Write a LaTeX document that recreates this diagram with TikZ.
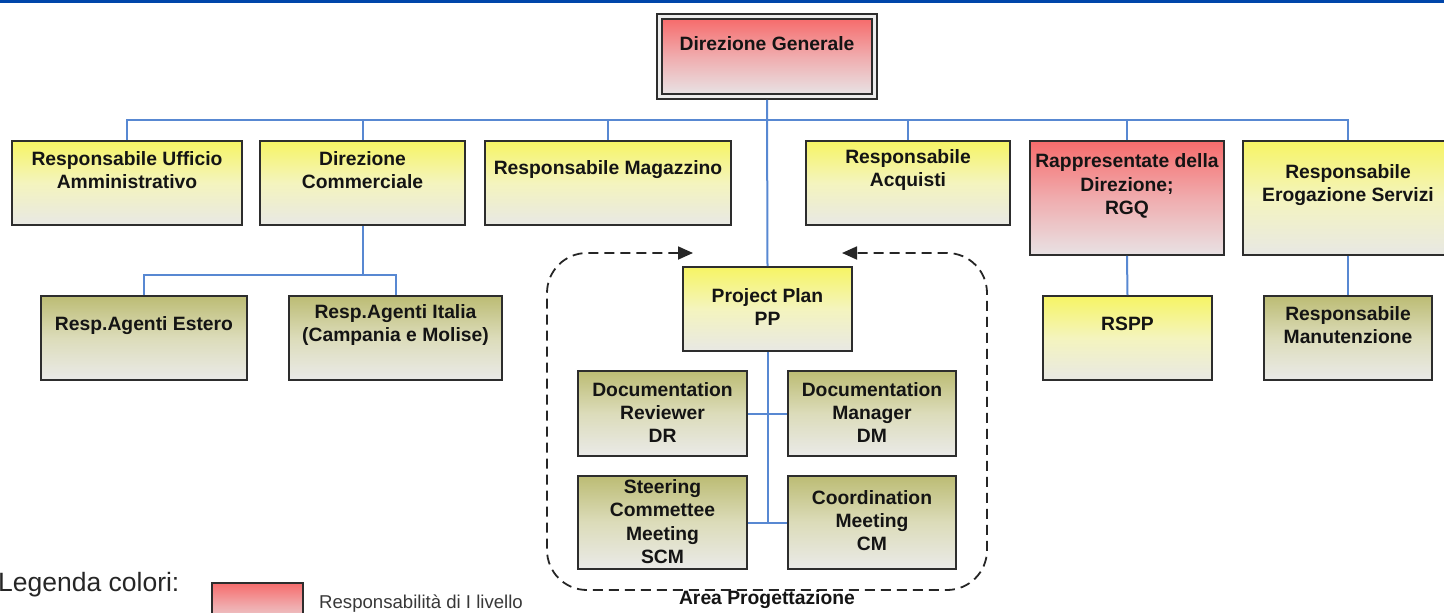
\documentclass[tikz,border=0pt]{standalone}
\usepackage{fontspec}
\setmainfont{Liberation Sans}
\usetikzlibrary{fit,arrows.meta}
\definecolor{ylwtop}{RGB}{246,244,100}
\definecolor{ylwmid}{RGB}{244,244,190}
\definecolor{ylwbot}{RGB}{232,232,228}
\definecolor{redtop}{RGB}{246,108,108}
\definecolor{redmid}{RGB}{240,172,174}
\definecolor{redbot}{RGB}{232,226,228}
\definecolor{olvtop}{RGB}{188,188,116}
\definecolor{olvmid}{RGB}{220,220,186}
\definecolor{olvbot}{RGB}{234,234,232}
\definecolor{conncol}{RGB}{88,136,210}
\definecolor{barcol}{RGB}{0,70,170}
\definecolor{edgecol}{RGB}{45,45,45}
\tikzset{
  box/.style={rectangle, draw=edgecol, line width=1.7pt, inner sep=0pt},
  ybox/.style={box, top color=ylwtop, bottom color=ylwbot, middle color=ylwmid},
  rbox/.style={box, top color=redtop, bottom color=redbot, middle color=redmid},
  gbox/.style={box, top color=olvtop, bottom color=olvbot, middle color=olvmid},
  txt/.style={font=\fontsize{19.3}{23.3}\selectfont\bfseries, align=center, inner sep=0pt, text=black!92},
  conn/.style={draw=conncol, line width=2pt},
  frame/.style={draw=black!85, line width=1.8pt, dash pattern=on 10pt off 6pt, rounded corners=40pt,
    arrows={Triangle[length=15pt,width=13pt]-Triangle[length=15pt,width=13pt]}}
}
\newcommand{\obox}[8]{%
  \node[#2, fit={(#3,#4) (#5,#6)}] (#1) {};
  \node[txt] (#1-t) at ([yshift=#7pt]#1.center) {#8};}
\begin{document}
\begin{tikzpicture}[x=1pt,y=-1pt]
\useasboundingbox (0,0) rectangle (1444,613);
\clip (0,0) rectangle (1444,613);
\fill[barcol] (0,0) rectangle (1444,3);

% Direzione Generale (double frame)
\node[box, fill=white!85!gray, fit={(657,14) (877,99)}] (dgo) {};
\node[rbox, line width=1.4pt, fit={(662,19) (872,94)}] (dg) {};
\node[txt] (dg-t) at ([yshift=13pt]dg.center) {Direzione Generale};

% level 1
\obox{rua}{ybox}{12}{141}{242}{225}{13}{Responsabile Ufficio\\Amministrativo}
\obox{dc}{ybox}{260}{141}{465}{225}{13}{Direzione\\Commerciale}
\obox{mag}{ybox}{485}{141}{731}{225}{13}{Responsabile Magazzino}
\obox{acq}{ybox}{806}{141}{1010}{225}{13}{Responsabile\\Acquisti}
\obox{rap}{rbox}{1030}{141}{1224}{255}{12}{Rappresentate della\\Direzione;\\RGQ}
\obox{ero}{ybox}{1243}{141}{1453}{255}{13}{Responsabile\\Erogazione Servizi}

% level 2
\obox{est}{gbox}{41}{296}{247}{380}{12}{Resp.Agenti Estero}
\obox{ita}{gbox}{289}{296}{502}{380}{13}{Resp.Agenti Italia\\(Campania e Molise)}
\obox{rspp}{ybox}{1043}{296}{1212}{380}{14}{RSPP}
\obox{man}{gbox}{1264}{296}{1432}{380}{13}{Responsabile\\Manutenzione}

% Area Progettazione
\obox{pp}{ybox}{683}{267}{852}{351}{2}{Project Plan\\PP}
\obox{dr}{gbox}{578}{371}{747}{456}{1}{Documentation\\Reviewer\\DR}
\obox{dm}{gbox}{788}{371}{956}{456}{1}{Documentation\\Manager\\DM}
\obox{scm}{gbox}{578}{476}{747}{569}{1}{Steering\\Commettee\\Meeting\\SCM}
\obox{cm}{gbox}{788}{476}{956}{569}{2}{Coordination\\Meeting\\CM}

\coordinate (fa) at (693,253);
\coordinate (fb) at (842,253);
\draw[frame] (fa) -| (547,590) -| (987,253) -- (fb);
\node[txt] (area) at (767,600) {Area Progettazione};

% connectors
\coordinate (bus) at (767,120);
\draw[conn] (dgo.south) -- (pp.north);
\draw[conn] (rua.north) |- (bus) -| (ero.north);
\foreach \n in {dc,mag,acq,rap} \draw[conn] (\n.north) -- (\n.north |- bus);
\coordinate (sub) at (363,275);
\draw[conn] (dc.south) -- (dc.south |- sub);
\draw[conn] (est.north) |- (sub) -| (ita.north);
\draw[conn] (rap.south) -- (rspp.north);
\draw[conn] (ero.south) -- (man.north);
\draw[conn] (pp.south) -- (pp.south |- scm.east);
\draw[conn] (dr.east) -- (dm.west);
\draw[conn] (scm.east) -- (cm.west);

% legend
\node[anchor=base west, font=\fontsize{26.5}{30}\selectfont, inner sep=0pt, text=black!85] (leg) at (-2,591) {Legenda colori:};
\node[rbox, fit={(212,583) (303,630)}] (legbox) {};
\node[anchor=base west, font=\fontsize{18.6}{22}\selectfont, inner sep=0pt, text=black!78] (legtxt) at (319,608) {Responsabilità di I livello};
\end{tikzpicture}
\end{document}
